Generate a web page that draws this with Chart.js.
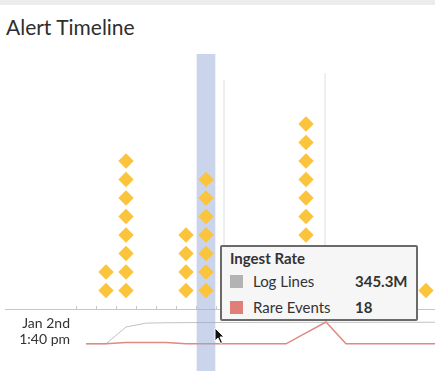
<!DOCTYPE html>
<html lang="en">
<head>
<meta charset="UTF-8">
<title>Alert Timeline</title>
<script src="https://cdn.jsdelivr.net/npm/chart.js"></script>
<style>
  html, body { margin: 0; padding: 0; background: #fff; }
  body { width: 435px; height: 371px; position: relative; overflow: hidden; font-family: Lato, "Open Sans", sans-serif; color: #333; }
  .topbar { position: absolute; left: 0; top: 0; width: 435px; height: 5px; background: #ececec; }
  h1 { position: absolute; left: 6px; top: 14px; margin: 0; font-size: 21px; font-weight: 400; line-height: 26px; color: #2e2e2e; }
  #chart { position: absolute; left: 0; top: 45px; }
  .start-label { position: absolute; left: 0; top: 315px; width: 70px; text-align: right; font-size: 14px; line-height: 16px; color: #333; }
  #tip { position: absolute; display: none; width: 194px; height: 72px; background: #f6f6f6; border: 2px solid #6a6a6a; border-radius: 2px; font-size: 15px; line-height: 18px; color: #333; }
  #tip .tt-title { position: absolute; left: 8px; top: 2px; font-weight: 700; }
  #tip .tt-row { position: absolute; left: 8px; height: 18px; display: flex; }
  #tip .sw { width: 13px; height: 13px; margin-top: 2.5px; margin-right: 10px; }
  #tip .lbl { width: 102px; }
  #tip .val { font-weight: 700; }
  .cursor { position: absolute; left: 214px; top: 327px; }
</style>
</head>
<body>

<div class="topbar"></div>
<h1>Alert Timeline</h1>
<canvas id="chart" width="435" height="326"></canvas>
<div class="start-label">Jan 2nd<br>1:40 pm</div>
<div id="tip"></div>
<svg class="cursor" width="12" height="18" viewBox="0 0 12 18"><path d="M1 1 L1 14 L4 11 L6.5 16.5 L8.5 15.5 L6 10 L10 10 Z" fill="#111" stroke="#fff" stroke-width="1"/></svg>

<script>
// x axis unit = one time bucket, 0 = first tick mark
const tickMarks = [0, 1, 2, 3, 4, 5, 6, 7, 8, 9, 10, 11, 12, 13, 14, 15, 16, 17];

// alerts per bucket (one diamond per alert)
const alertBuckets = [1.5, 2.5, 5.5, 6.5, 11.5, 17.5];
const alertCounts  = [2, 8, 4, 7, 10, 1];

// highlighted bucket and alert marker lines
const selectedBucket = 6.5;
const markerTimes   = [7.4, 12.45];
const markerHeights = [12.4, 12.75];

// ingest rate sparkline
const sparkTimes = [0.5, 1.5, 2.5, 3.5, 4.5, 5.5, 6.5, 7.5, 8.5, 9.5, 10.5, 11.5, 12.5, 13.5, 14.5, 15.5, 16.5, 17.5, 18.5];
const logLines   = [0, 0, 270, 332, 338, 340, 341, 342, 343, 344, 344, 345, 345.3, 345, 345, 346, 346, 346, 346]; // millions
const rareEvents = [0, 0, 1, 1, 1, 0, 0, 0, 0, 0, 0, 9, 18, 0, 0, 0, 0, 0, 0];
const hoverIndex = 12;

const diamonds = [];
alertBuckets.forEach((b, i) => {
    for (let k = 1; k <= alertCounts[i]; k++) diamonds.push({ x: b, y: k });
});

const markerSets = markerTimes.map((t, i) => ({
    label: 'marker' + i,
    data: [{ x: t, y: 0 }, { x: t, y: markerHeights[i] }],
    yAxisID: 'y',
    borderColor: '#dedede',
    borderWidth: 1,
    pointRadius: 0,
    order: 4
}));

function renderTip(context) {
    const tooltip = context.tooltip;
    const el = document.getElementById('tip');
    if (tooltip.opacity === 0) { el.style.display = 'none'; return; }

    let html = '<div class="tt-title">' + (tooltip.title || []).join(' ') + '</div>';
    tooltip.dataPoints.forEach((p, i) => {
        const v = p.parsed.y;
        const txt = p.dataset.yAxisID === 'yLog' ? v.toFixed(1) + 'M' : String(v);
        html += '<div class="tt-row" style="top:' + (25 + 26 * i) + 'px">' +
            '<span class="sw" style="background:' + p.dataset.backgroundColor + '"></span>' +
            '<span class="lbl">' + p.dataset.label + '</span>' +
            '<span class="val">' + txt + '</span></div>';
    });
    el.innerHTML = html;

    const canvas = context.chart.canvas;
    el.style.display = 'block';
    el.style.left = (canvas.offsetLeft + tooltip.caretX - 106) + 'px';
    el.style.top = (canvas.offsetTop + tooltip.caretY - 77) + 'px';
}

const chart = new Chart(document.getElementById('chart'), {
    type: 'line',
    data: {
        datasets: [
            {
                label: 'Alerts',
                type: 'scatter',
                data: diamonds,
                yAxisID: 'y',
                pointStyle: 'rectRot',
                pointRadius: 7.7,
                pointBackgroundColor: '#fbc43d',
                pointBorderWidth: 0,
                order: 0
            },
            {
                label: 'Selected',
                type: 'bar',
                data: [{ x: selectedBucket, y: [0, 1] }],
                yAxisID: 'yBand',
                barThickness: 18,
                backgroundColor: 'rgba(150, 170, 215, 0.5)',
                order: 1
            },
            {
                label: 'Log Lines',
                data: sparkTimes.map((t, i) => ({ x: t, y: logLines[i] })),
                yAxisID: 'yLog',
                borderColor: '#c2c2c2',
                backgroundColor: '#b3b3b3',
                borderWidth: 1,
                pointRadius: 0,
                order: 3
            },
            {
                label: 'Rare Events',
                data: sparkTimes.map((t, i) => ({ x: t, y: rareEvents[i] })),
                yAxisID: 'yRare',
                borderColor: '#de8a80',
                backgroundColor: '#df7f78',
                borderWidth: 1.5,
                pointRadius: 0,
                order: 2
            },
            ...markerSets
        ]
    },
    options: {
        responsive: false,
        animation: false,
        events: [],
        layout: { autoPadding: false, padding: { top: 9, left: 5, right: 0, bottom: 0 } },
        scales: {
            x: {
                type: 'linear',
                min: -3.55,
                max: 17.95,
                bounds: 'data',
                offset: false,
                position: { y: 0 },
                afterBuildTicks: (scale) => { scale.ticks = tickMarks.map(v => ({ value: v })); },
                afterFit: (scale) => { scale.height = 0; },
                ticks: { display: false },
                grid: { offset: false, drawOnChartArea: false, drawTicks: true, tickLength: -4, color: '#c8c8c8' },
                border: { display: true, color: '#c8c8c8', width: 1 }
            },
            y: { axis: 'y', display: false, min: -3.351, max: 13.784, bounds: 'data' },
            yBand: { axis: 'y', display: false, min: 0, max: 1, bounds: 'data' },
            yLog: { axis: 'y', display: false, min: -436.8, max: 4654.3, bounds: 'data' },
            yRare: { axis: 'y', display: false, min: -22.46, max: 239.3, bounds: 'data' }
        },
        plugins: {
            legend: { display: false },
            tooltip: {
                enabled: false,
                external: renderTip,
                callbacks: { title: () => 'Ingest Rate' }
            }
        }
    }
});

chart.tooltip.setActiveElements([
    { datasetIndex: 2, index: hoverIndex },
    { datasetIndex: 3, index: hoverIndex }
], { x: 0, y: 0 });
</script>

</body>
</html>
